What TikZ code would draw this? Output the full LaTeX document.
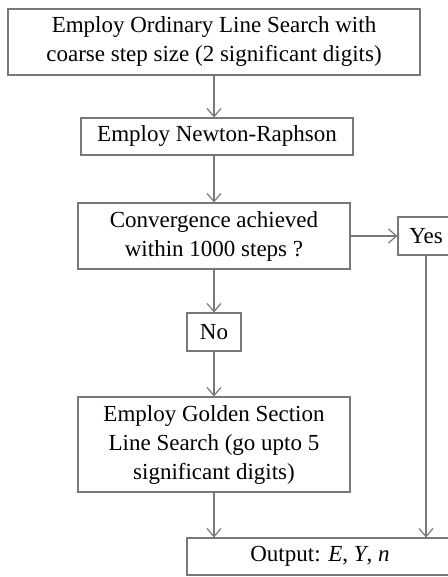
\documentclass[tikz,border=0pt]{standalone}
\usepackage{fontspec}
\setmainfont{Liberation Serif}
\usepackage{tikz}
\usepackage{xcolor}
\usetikzlibrary{arrows.meta}
\definecolor{flowgray}{RGB}{120,120,120}

\begin{document}
\begin{tikzpicture}[
    x=0.5pt, y=-0.5pt,
    every node/.style={font=\fontsize{11.5}{14.5}\selectfont},
    box/.style={draw=flowgray, line width=0.6pt, align=center, inner sep=0pt},
    flow/.style={draw=flowgray, line width=0.6pt, -{Straight Barb[length=4pt, width=7pt]}}
]
\useasboundingbox (0,0) rectangle (448,577);

% Boxes
\node[box, minimum width=206pt, minimum height=33pt] (ols) at (214, 42)
    {Employ Ordinary Line Search with\\coarse step size (2 significant digits)};
\node[box, minimum width=136pt, minimum height=18.5pt] (newton) at (217, 136.5)
    {Employ Newton-Raphson};
\node[box, minimum width=136pt, minimum height=33pt] (conv) at (214, 236)
    {Convergence achieved\\within 1000 steps ?};
\node[box, minimum width=28pt, minimum height=19pt] (yes) at (426, 236) {Yes};
\node[box, minimum width=27pt, minimum height=19pt] (no) at (214, 332) {No};
\node[box, minimum width=136pt, minimum height=47.5pt] (golden) at (214, 444.5)
    {Employ Golden Section\\Line Search (go upto 5\\significant digits)};
\node[box, minimum width=133pt, minimum height=18.5pt] (out) at (320, 556.5)
    {Output: \textit{E}, \textit{Y}, \textit{n}};

% Arrows
\draw[flow] (ols.south) -- (ols.south |- newton.north);
\draw[flow] (newton.south -| conv.north) -- (conv.north);
\draw[flow] (conv.south) -- (no.north);
\draw[flow] (conv.east) -- (yes.west);
\draw[flow] (no.south) -- (golden.north);
\draw[flow] (golden.south) -- (golden.south |- out.north);
\draw[flow] (yes.south) -- (yes.south |- out.north);

\end{tikzpicture}
\end{document}
